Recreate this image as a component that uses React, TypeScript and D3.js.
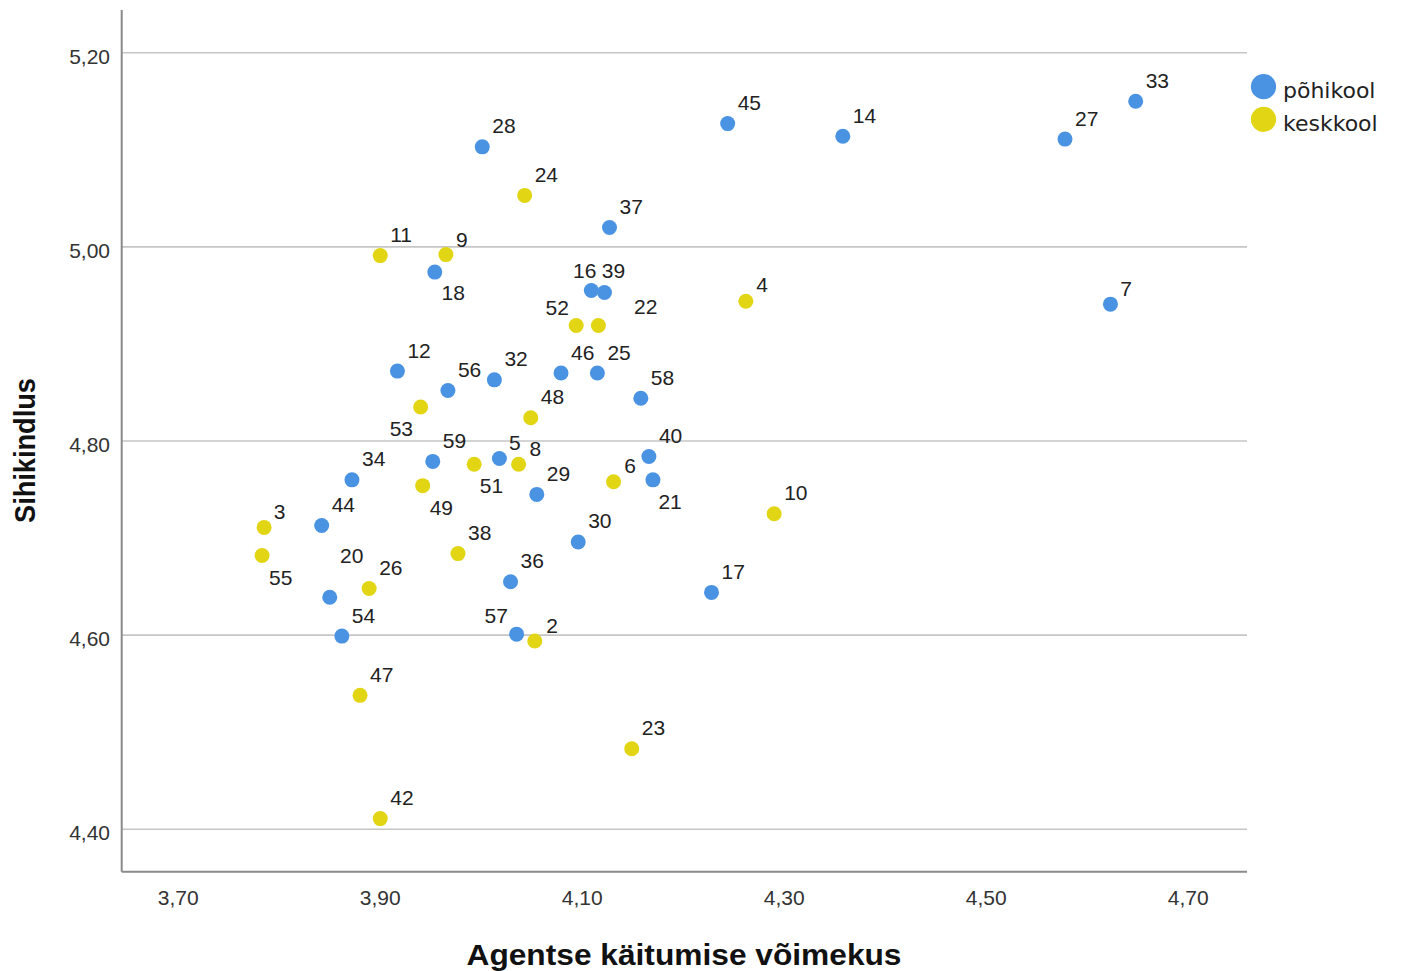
import React from "react";
import * as d3 from "d3";

// ---- Data ----
const pohikoolIds = ["28", "45", "14", "27", "33", "37", "18", "16", "39", "7", "12", "56", "32", "46", "25", "58", "40", "21", "34", "59", "5", "29", "44", "30", "20", "54", "36", "57", "17"];
const pohikoolX = [4.001, 4.244, 4.358, 4.578, 4.648, 4.127, 3.954, 4.109, 4.122, 4.623, 3.917, 3.967, 4.013, 4.079, 4.115, 4.158, 4.166, 4.170, 3.872, 3.952, 4.018, 4.055, 3.842, 4.096, 3.850, 3.862, 4.029, 4.035, 4.228];
const pohikoolY = [5.103, 5.127, 5.114, 5.111, 5.150, 5.020, 4.974, 4.955, 4.953, 4.941, 4.872, 4.852, 4.863, 4.870, 4.870, 4.844, 4.784, 4.760, 4.760, 4.779, 4.782, 4.745, 4.713, 4.696, 4.639, 4.599, 4.655, 4.601, 4.644];

const keskkoolIds = ["24", "11", "9", "4", "52", "22", "53", "48", "51", "8", "49", "6", "3", "55", "38", "26", "10", "2", "47", "23", "42"];
const keskkoolX = [4.043, 3.900, 3.965, 4.262, 4.094, 4.116, 3.940, 4.049, 3.993, 4.037, 3.942, 4.131, 3.785, 3.783, 3.977, 3.889, 4.290, 4.053, 3.880, 4.149, 3.900];
const keskkoolY = [5.053, 4.991, 4.992, 4.944, 4.919, 4.919, 4.835, 4.824, 4.776, 4.776, 4.754, 4.758, 4.711, 4.682, 4.684, 4.648, 4.725, 4.594, 4.538, 4.483, 4.411];

const seriesNames = ["põhikool", "keskkool"];
const xTicks = [3.7, 3.9, 4.1, 4.3, 4.5, 4.7];
const yTicks = [4.4, 4.6, 4.8, 5.0, 5.2];
const xTitle = "Agentse käitumise võimekus";
const yTitle = "Sihikindlus";

// ---- Styling / layout ----
const W = 1401;
const H = 971;
const plot = { left: 121.7, top: 10, right: 1247, bottom: 871.7 };
const colors = ["#4a93e3", "#e2d614"];
const dotR = 7.5;

// label placement (styling): default offset and per-label overrides [dx, dy, anchor]
const defaultLabel: [number, number, string] = [10, -13.5, "start"];
const labelOverrides: Record<string, [number, number, string]> = {
  "18": [6.7, 28, "start"],
  "16": [5, -12.7, "end"],
  "39": [-2.6, -14.7, "start"],
  "52": [-7.3, -10.5, "end"],
  "22": [35.7, -11, "start"],
  "4": [10.3, -9.4, "start"],
  "9": [10, -8, "start"],
  "7": [9.7, -7.7, "start"],
  "53": [-7.6, 28.7, "end"],
  "5": [9.6, -8.7, "start"],
  "8": [11, -8, "start"],
  "51": [5.6, 28.7, "start"],
  "6": [10.8, -8.3, "start"],
  "49": [7, 29, "start"],
  "21": [5.5, 28.7, "start"],
  "3": [9.6, -8.3, "start"],
  "55": [7, 29.7, "start"],
  "20": [10.3, -34.3, "start"],
  "57": [-8.7, -11.3, "end"],
  "2": [11.4, -8, "start"],
};

const locale = d3.formatLocale({ decimal: ",", thousands: " ", grouping: [3], currency: ["", "€"] });
const fmt = locale.format(".2f");

export default function App() {
  const x = d3.scaleLinear().domain([3.644, 4.7582]).range([plot.left, plot.right]);
  const y = d3.scaleLinear().domain([4.3563, 5.244]).range([plot.bottom, plot.top]);

  const series = [
    { name: seriesNames[0], ids: pohikoolIds, xs: pohikoolX, ys: pohikoolY, color: colors[0] },
    { name: seriesNames[1], ids: keskkoolIds, xs: keskkoolX, ys: keskkoolY, color: colors[1] },
  ];

  const labelFont = "'Liberation Sans', Arial, sans-serif";

  return (
    <svg width={W} height={H} style={{ position: "absolute", left: 0, top: 0, background: "#fff" }}>
      <rect x={0} y={0} width={W} height={H} fill="#fff" />
      {/* gridlines */}
      {yTicks.map((t) => (
        <line key={"g" + t} x1={plot.left} x2={plot.right} y1={y(t)} y2={y(t)} stroke="#c6c6c6" strokeWidth={1.6} />
      ))}
      {/* axes */}
      <line x1={plot.left} x2={plot.left} y1={plot.top} y2={plot.bottom} stroke="#8a8a8a" strokeWidth={2} />
      <line x1={plot.left} x2={plot.right} y1={plot.bottom} y2={plot.bottom} stroke="#8a8a8a" strokeWidth={2} />
      {/* y tick labels */}
      {yTicks.map((t) => (
        <text key={"yt" + t} x={110} y={y(t) + 11} textAnchor="end" fontFamily={labelFont} fontSize={21} fill="#333">
          {fmt(t)}
        </text>
      ))}
      {/* x tick labels */}
      {xTicks.map((t) => (
        <text key={"xt" + t} x={x(t)} y={905} textAnchor="middle" fontFamily={labelFont} fontSize={21} fill="#333">
          {fmt(t)}
        </text>
      ))}
      {/* axis titles */}
      <text x={684} y={965} textAnchor="middle" fontFamily={labelFont} fontWeight="bold" fontSize={30} fill="#111" textLength={435} lengthAdjust="spacingAndGlyphs">
        {xTitle}
      </text>
      <text transform={`translate(35,450.5) rotate(-90)`} textAnchor="middle" fontFamily={labelFont} fontWeight="bold" fontSize={30} fill="#111" textLength={145} lengthAdjust="spacingAndGlyphs">
        {yTitle}
      </text>
      {/* points */}
      {series.map((s) => (
        <g key={s.name}>
          {s.ids.map((id, i) => (
            <circle key={id} cx={x(s.xs[i])} cy={y(s.ys[i])} r={dotR} fill={s.color} />
          ))}
        </g>
      ))}
      {/* point labels */}
      {series.map((s) => (
        <g key={s.name + "l"}>
          {s.ids.map((id, i) => {
            const [dx, dy, anchor] = labelOverrides[id] || defaultLabel;
            return (
              <text key={id} x={x(s.xs[i]) + dx} y={y(s.ys[i]) + dy} textAnchor={anchor} fontFamily={labelFont} fontSize={21} fill="#222">
                {id}
              </text>
            );
          })}
        </g>
      ))}
      {/* legend */}
      {series.map((s, i) => (
        <g key={s.name + "leg"}>
          <circle cx={1263.5} cy={86.7 + i * 32.6} r={12.6} fill={s.color} />
          <text x={1283} y={98.3 + i * 32.6} fontFamily="'DejaVu Sans', sans-serif" fontSize={22} fill="#222">
            {s.name}
          </text>
        </g>
      ))}
    </svg>
  );
}
